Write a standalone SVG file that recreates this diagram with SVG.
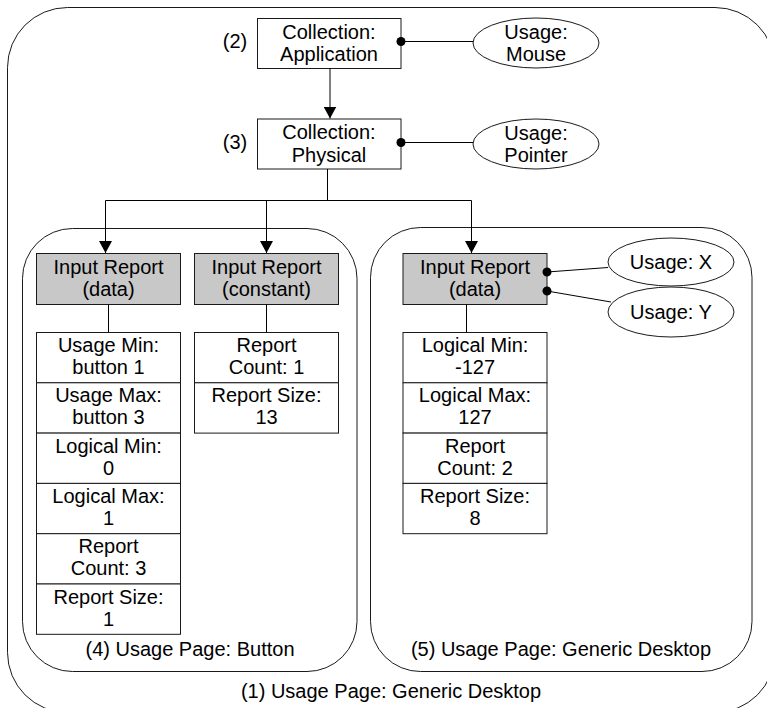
<svg xmlns="http://www.w3.org/2000/svg" width="767" height="708" viewBox="0 0 767 708">
<defs>
<style>
text{font-family:"Liberation Sans",Arial,sans-serif;font-size:20px;fill:#000;text-anchor:middle}
.box{fill:#fff;stroke:#1a1a1a;stroke-width:1}
.gray{fill:#c8c8c8;stroke:#1a1a1a;stroke-width:1}
.cont{fill:none;stroke:#1a1a1a;stroke-width:1}
.ell{fill:#fff;stroke:#1a1a1a;stroke-width:1}
.edge{fill:none;stroke:#000;stroke-width:1}
.arr{marker-end:url(#arrow)}
.dot{marker-start:url(#dot)}
</style>
<marker id="arrow" markerUnits="userSpaceOnUse" markerWidth="12" markerHeight="13" refX="12" refY="6.5" orient="auto">
<path d="M0,0 L12,6.5 L0,13 z" fill="#000"/>
</marker>
<marker id="dot" markerUnits="userSpaceOnUse" markerWidth="10" markerHeight="10" refX="5" refY="5" orient="auto">
<circle cx="5" cy="5" r="4.5" fill="#000"/>
</marker>
</defs>

<g id="page1">
<rect class="cont" x="7.5" y="7.5" width="767.5" height="705" rx="60" ry="60"/>
<text x="391" y="698">(1) Usage Page: Generic Desktop</text>
</g>

<g id="page4">
<rect class="cont" x="22.5" y="228.5" width="334.5" height="443" rx="50" ry="50"/>
<text x="190" y="656">(4) Usage Page: Button</text>
</g>

<g id="page5">
<rect class="cont" x="370.5" y="227.5" width="381.5" height="444" rx="50" ry="50"/>
<text x="561" y="656">(5) Usage Page: Generic Desktop</text>
</g>

<g id="label2"><text x="235" y="48">(2)</text></g>
<g id="label3"><text x="235" y="149">(3)</text></g>

<g id="collection-application">
<rect class="box" x="257.5" y="18.5" width="143.5" height="50"/>
<text x="329" y="38.5">Collection:</text>
<text x="329" y="61">Application</text>
</g>

<g id="usage-mouse">
<ellipse class="ell" cx="536" cy="43" rx="63" ry="25"/>
<text x="536" y="38.5">Usage:</text>
<text x="536" y="61">Mouse</text>
</g>

<g id="collection-physical">
<rect class="box" x="257.5" y="119" width="143.5" height="50"/>
<text x="329" y="139">Collection:</text>
<text x="329" y="161.5">Physical</text>
</g>

<g id="usage-pointer">
<ellipse class="ell" cx="536" cy="144" rx="63" ry="25"/>
<text x="536" y="139.5">Usage:</text>
<text x="536" y="162">Pointer</text>
</g>

<g id="input-data-button">
<rect class="gray" x="36.5" y="253.5" width="144" height="51"/>
<text x="108.5" y="273.5">Input Report</text>
<text x="108.5" y="296">(data)</text>
</g>

<g id="input-constant">
<rect class="gray" x="194.5" y="253.5" width="144" height="51"/>
<text x="266.5" y="273.5">Input Report</text>
<text x="266.5" y="296">(constant)</text>
</g>

<g id="input-data-desktop">
<rect class="gray" x="403" y="253.5" width="144" height="51"/>
<text x="475" y="273.5">Input Report</text>
<text x="475" y="296">(data)</text>
</g>

<g id="usage-x">
<ellipse class="ell" cx="671" cy="262" rx="63" ry="24"/>
<text x="671" y="268.5">Usage: X</text>
</g>

<g id="usage-y">
<ellipse class="ell" cx="671" cy="312" rx="63" ry="25"/>
<text x="671" y="318.5">Usage: Y</text>
</g>

<g id="button-fields">
<rect class="box" x="36.5" y="332.5" width="144" height="50.3"/>
<text x="108.5" y="352">Usage Min:</text>
<text x="108.5" y="374">button 1</text>
<rect class="box" x="36.5" y="382.8" width="144" height="50.3"/>
<text x="108.5" y="402.3">Usage Max:</text>
<text x="108.5" y="424.3">button 3</text>
<rect class="box" x="36.5" y="433.1" width="144" height="50.3"/>
<text x="108.5" y="452.6">Logical Min:</text>
<text x="108.5" y="474.6">0</text>
<rect class="box" x="36.5" y="483.4" width="144" height="50.3"/>
<text x="108.5" y="502.9">Logical Max:</text>
<text x="108.5" y="524.9">1</text>
<rect class="box" x="36.5" y="533.7" width="144" height="50.3"/>
<text x="108.5" y="553.2">Report</text>
<text x="108.5" y="575.2">Count: 3</text>
<rect class="box" x="36.5" y="584" width="144" height="50.3"/>
<text x="108.5" y="603.5">Report Size:</text>
<text x="108.5" y="625.5">1</text>
</g>

<g id="constant-fields">
<rect class="box" x="194.5" y="332.5" width="144" height="50.3"/>
<text x="266.5" y="352">Report</text>
<text x="266.5" y="374">Count: 1</text>
<rect class="box" x="194.5" y="382.8" width="144" height="50.3"/>
<text x="266.5" y="402.3">Report Size:</text>
<text x="266.5" y="424.3">13</text>
</g>

<g id="desktop-fields">
<rect class="box" x="403" y="332.5" width="144" height="50.3"/>
<text x="475" y="352">Logical Min:</text>
<text x="475" y="374">-127</text>
<rect class="box" x="403" y="382.8" width="144" height="50.3"/>
<text x="475" y="402.3">Logical Max:</text>
<text x="475" y="424.3">127</text>
<rect class="box" x="403" y="433.1" width="144" height="50.3"/>
<text x="475" y="452.6">Report</text>
<text x="475" y="474.6">Count: 2</text>
<rect class="box" x="403" y="483.4" width="144" height="50.3"/>
<text x="475" y="502.9">Report Size:</text>
<text x="475" y="524.9">8</text>
</g>

<g id="connectors">
<line class="edge arr" x1="330" y1="68" x2="330" y2="118.5"/>
<polyline class="edge" points="327.5,169 327.5,200.5"/>
<line class="edge" x1="105.5" y1="200.5" x2="471.5" y2="200.5"/>
<line class="edge arr" x1="105.5" y1="200.5" x2="105.5" y2="253"/>
<line class="edge arr" x1="266.5" y1="200.5" x2="266.5" y2="253"/>
<line class="edge arr" x1="471.5" y1="200.5" x2="471.5" y2="253"/>
<line class="edge dot" x1="401" y1="41.5" x2="473" y2="41.5"/>
<line class="edge dot" x1="401" y1="142.5" x2="473" y2="142.5"/>
<line class="edge dot" x1="547" y1="272" x2="608" y2="267.5"/>
<line class="edge dot" x1="547" y1="291" x2="611" y2="302"/>
<line class="edge" x1="108.5" y1="304.5" x2="108.5" y2="332.5"/>
<line class="edge" x1="266.5" y1="304.5" x2="266.5" y2="332.5"/>
<line class="edge" x1="466.5" y1="304.5" x2="466.5" y2="332.5"/>
</g>
</svg>
